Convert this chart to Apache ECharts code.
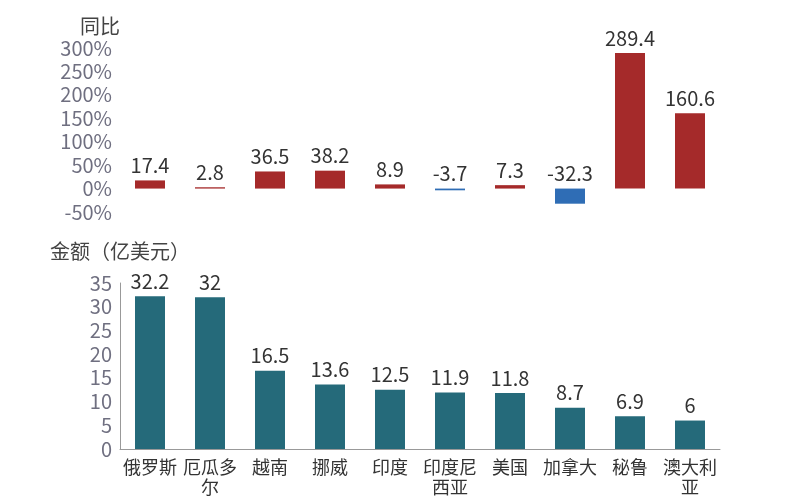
<!DOCTYPE html>
<html><head><meta charset="utf-8">
<script src="https://cdn.jsdelivr.net/npm/echarts@6/dist/echarts.min.js"></script>
</head><body style="margin:0">
<div id="main" style="width:800px;height:500px;"></div>
<script>
var categories = ['俄罗斯', '厄瓜多\n尔', '越南', '挪威', '印度', '印度尼\n西亚', '美国', '加拿大', '秘鲁', '澳大利\n亚'];
var yoyValues = [17.4, 2.8, 36.5, 38.2, 8.9, -3.7, 7.3, -32.3, 289.4, 160.6];
var amountValues = [32.2, 32, 16.5, 13.6, 12.5, 11.9, 11.8, 8.7, 6.9, 6];

var font = 'Noto Sans CJK SC';
var axisGray = '#6f6f80';
var myChart = echarts.init(document.getElementById('main'));
myChart.setOption({
    animation: false,
    textStyle: {fontFamily: font},
    grid: [
        {left: 120, right: 80, top: 48, height: 164},
        {left: 120, right: 80, top: 283, height: 166}
    ],
    xAxis: [
        {gridIndex: 0, type: 'category', data: categories, axisLine: {show: false},
         axisTick: {show: false}, axisLabel: {show: false}},
        {gridIndex: 1, type: 'category', data: categories,
         axisLine: {lineStyle: {color: '#999'}}, axisTick: {show: false},
         axisLabel: {color: '#333', fontSize: 18, lineHeight: 20, margin: 8, interval: 0}}
    ],
    yAxis: [
        {gridIndex: 0, type: 'value', min: -50, max: 300, interval: 50,
         name: '同比', nameLocation: 'end', nameGap: 12,
         nameTextStyle: {color: '#444', fontSize: 20, align: 'right', padding: [0, 0, 0, 0]},
         splitLine: {show: false}, axisLine: {show: false}, axisTick: {show: false},
         axisLabel: {color: axisGray, fontSize: 20, formatter: '{value}%'}},
        {gridIndex: 1, type: 'value', min: 0, max: 35, interval: 5,
         name: '金额（亿美元）', nameLocation: 'end', nameGap: 22,
         nameTextStyle: {color: '#444', fontSize: 20, align: 'center', padding: [0, 0, 0, 0]},
         splitLine: {show: false}, axisLine: {show: true, lineStyle: {color: '#999'}}, axisTick: {show: false},
         axisLabel: {color: axisGray, fontSize: 20}}
    ],
    series: [
        {type: 'bar', xAxisIndex: 0, yAxisIndex: 0, barWidth: 30,
         data: yoyValues.map(function (v) {
             return {value: v, itemStyle: {color: v < 0 ? '#2f6db5' : '#a52a2a'}};
         }),
         label: {show: true, position: 'top', color: '#333', fontSize: 20,
                 formatter: function (p) { return p.value; }}},
        {type: 'bar', xAxisIndex: 1, yAxisIndex: 1, barWidth: 30, data: amountValues,
         itemStyle: {color: '#256a7a'},
         label: {show: true, position: 'top', color: '#333', fontSize: 20}}
    ]
});
</script>
</body></html>
